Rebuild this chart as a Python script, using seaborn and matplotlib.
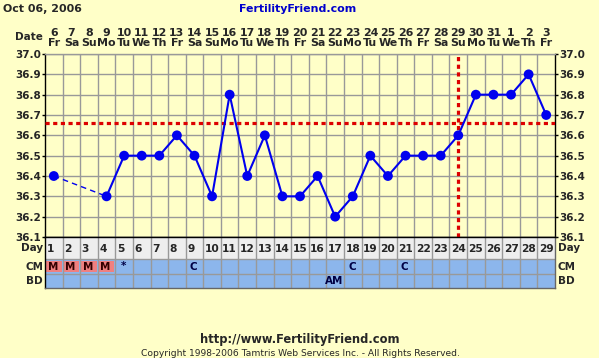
import numpy as np
import pandas as pd
import matplotlib
matplotlib.use("Agg")
import matplotlib.pyplot as plt
import seaborn as sns
from matplotlib.patches import Rectangle
from matplotlib.transforms import blended_transform_factory

# ---------------- data ----------------
cycle_days = list(range(1, 30))
dates = [str(d) for d in list(range(6, 32)) + [1, 2, 3]]
weekdays = ["Fr", "Sa", "Su", "Mo", "Tu", "We", "Th"] * 4 + ["Fr"]
temps = [36.4, np.nan, np.nan, 36.3, 36.5, 36.5, 36.5, 36.6, 36.5, 36.3,
         36.8, 36.4, 36.6, 36.3, 36.3, 36.4, 36.2, 36.3, 36.5, 36.4,
         36.5, 36.5, 36.5, 36.6, 36.8, 36.8, 36.8, 36.9, 36.7]
coverline = 36.66
ovulation_day = 24
y_ticks = [36.1, 36.2, 36.3, 36.4, 36.5, 36.6, 36.7, 36.8, 36.9, 37.0]
cm_days = [1, 2, 3, 4, 5, 9, 18, 21]
cm_marks = ["M", "M", "M", "M", "*", "C", "C", "C"]
bd_days = [17]
bd_marks = ["AM"]
header_date = "Oct 06, 2006"
site_title = "FertilityFriend.com"
footer_url = "http://www.FertilityFriend.com"
footer_copy = "Copyright 1998-2006 Tamtris Web Services Inc. - All Rights Reserved."

# ---------------- style ----------------
sns.set_style("white")
plt.rcParams["font.family"] = ["DejaVu Sans"]
BG = "#ffffc8"
GRID = "#999999"
BLUE = "#0000ee"
RED = "#dd0000"
FS = 7.5

W, H = 599, 358
fig = plt.figure(figsize=(W / 100, H / 100), dpi=100, facecolor=BG)

def fx(px):
    return px / W

def fy(py):
    return 1 - py / H

# main chart axes
ax = fig.add_axes([fx(45), fy(237), fx(510), 183 / H])
ax.set_facecolor(BG)
ax.set_xlim(0.5, 29.5)
ax.set_ylim(36.1, 37.0)

df = pd.DataFrame({"day": cycle_days, "temp": temps})
known = df.dropna()
gap_part = known[known["day"] <= 4]
solid_part = df[df["day"] >= 4]

sns.lineplot(data=gap_part, x="day", y="temp", color=BLUE, lw=1.0,
             linestyle=(0, (4, 3)), estimator=None, ax=ax, zorder=4)
sns.lineplot(data=solid_part, x="day", y="temp", color=BLUE, lw=1.5,
             estimator=None, ax=ax, zorder=4)
sns.scatterplot(data=known, x="day", y="temp", color=BLUE, s=50,
                edgecolor="none", ax=ax, zorder=5)

ax.axhline(coverline, color=RED, lw=2.3, ls=(0, (1.3, 1.1)),
           dash_capstyle="butt", zorder=3)
ax.axvline(ovulation_day, color=RED, lw=2.3, ls=(0, (1.3, 1.1)),
           dash_capstyle="butt", zorder=3)

ax.set_xlabel("")
ax.set_ylabel("")
ax.set_xticks([])
ax.set_xticks(np.arange(1.5, 29.5, 1), minor=True)
ax.set_yticks(y_ticks)
ax.set_yticklabels([f"{v:.1f}" for v in y_ticks], fontweight="bold", fontsize=FS)
ax.tick_params(axis="y", which="major", left=True, right=True,
               labelleft=True, labelright=True, length=2, width=1, pad=1,
               color="black")
ax.tick_params(axis="x", which="minor", length=0)
ax.grid(True, which="major", axis="y", color=GRID, lw=1, zorder=0)
ax.grid(True, which="minor", axis="x", color=GRID, lw=1, zorder=0)
for side in ["left", "right", "bottom"]:
    ax.spines[side].set_color("black")
    ax.spines[side].set_linewidth(1)
ax.spines["top"].set_color(GRID)
ax.spines["top"].set_linewidth(1)

# date labels above the chart
tr = blended_transform_factory(ax.transData, fig.transFigure)
for d, lab, wd in zip(cycle_days, dates, weekdays):
    ax.text(d, fy(32.5), lab, transform=tr, ha="center", va="center",
            fontsize=FS + 0.4, fontweight="bold")
    ax.text(d, fy(43), wd, transform=tr, ha="center", va="center",
            fontsize=FS + 0.4, fontweight="bold")
fig.text(fx(43), fy(37.5), "Date", ha="right", va="center",
         fontsize=FS, fontweight="bold")

# ---------------- table ----------------
tax = fig.add_axes([fx(45), fy(288), fx(510), 51 / H])
tax.set_xlim(0.5, 29.5)
tax.set_ylim(51, 0)
tax.set_xticks([])
tax.set_yticks([])
rows = [(0, 22, "#eeeeee"), (22, 36.5, "#8cb6ec"), (36.5, 51, "#8cb6ec")]
for y0, y1, col in rows:
    tax.add_patch(Rectangle((0.5, y0), 29, y1 - y0, facecolor=col,
                            edgecolor="none", zorder=0))
for d, m in zip(cm_days, cm_marks):
    if m == "M":
        tax.add_patch(Rectangle((d - 0.45, 23.8), 0.9, 11.2,
                                facecolor="#ef8080", edgecolor="none", zorder=1))
for b in np.arange(1.5, 29.5, 1):
    tax.axvline(b, color=GRID, lw=1, zorder=2)
for yb in [22, 36.5]:
    tax.axhline(yb, color=GRID, lw=1, zorder=2)
for s in tax.spines.values():
    s.set_color("#666666")
    s.set_linewidth(1)
tax.spines["left"].set_color("black")
tax.spines["top"].set_color("black")

for d in cycle_days:
    tax.text(d - 0.42, 11.5, str(d), ha="left", va="center",
             fontsize=FS + 0.2, fontweight="bold", zorder=3)
for d, m in zip(cm_days, cm_marks):
    tax.text(d - 0.05, 29.5, m, ha="center", va="center", fontsize=FS,
             fontweight="bold", color="#000044" if m != "M" else "#330000",
             zorder=3)
for d, m in zip(bd_days, bd_marks):
    tax.text(d - 0.05, 44, m, ha="center", va="center", fontsize=FS,
             fontweight="bold", color="#000044", zorder=3)

for lab, py in [("Day", 248), ("CM", 266.5), ("BD", 281)]:
    fig.text(fx(43), fy(py), lab, ha="right", va="center",
             fontsize=FS, fontweight="bold")
    fig.text(fx(558), fy(py), lab, ha="left", va="center",
             fontsize=FS, fontweight="bold")

# ---------------- headers / footers ----------------
fig.text(fx(3), fy(9.5), header_date, ha="left", va="center",
         fontsize=FS + 0.4, fontweight="bold")
fig.text(fx(298), fy(9.5), site_title, ha="center", va="center",
         fontsize=FS + 0.4, fontweight="bold", color="#0000cc")
fig.text(fx(300), fy(339.5), footer_url, ha="center", va="center",
         fontsize=8.3, fontweight="bold")
fig.text(fx(300), fy(353.5), footer_copy, ha="center", va="center",
         fontsize=6.6)

fig.savefig("out.png", dpi=100, facecolor=BG)
